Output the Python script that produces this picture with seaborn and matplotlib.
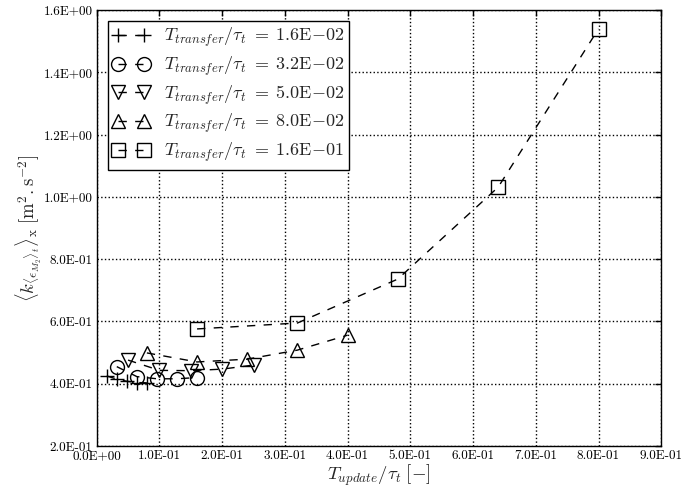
import matplotlib
matplotlib.use("Agg")
import matplotlib.pyplot as plt
import seaborn as sns
import pandas as pd

# T_update / tau_t  and  <k> for each T_transfer / tau_t
transfer_labels = [r"1.6\mathrm{E}{-}02", r"3.2\mathrm{E}{-}02", r"5.0\mathrm{E}{-}02",
                   r"8.0\mathrm{E}{-}02", r"1.6\mathrm{E}{-}01"]
markers = ["+", "o", "v", "^", "s"]

x_016 = [0.016, 0.032, 0.048, 0.064, 0.080]
k_016 = [0.425, 0.415, 0.408, 0.404, 0.403]

x_032 = [0.032, 0.064, 0.096, 0.128, 0.160]
k_032 = [0.455, 0.423, 0.416, 0.416, 0.420]

x_050 = [0.05, 0.10, 0.15, 0.20, 0.25]
k_050 = [0.476, 0.443, 0.442, 0.447, 0.460]

x_080 = [0.08, 0.16, 0.24, 0.32, 0.40]
k_080 = [0.499, 0.470, 0.479, 0.508, 0.556]

x_160 = [0.16, 0.32, 0.48, 0.64, 0.80]
k_160 = [0.576, 0.595, 0.736, 1.031, 1.539]

x_ticks = [0.0, 0.1, 0.2, 0.3, 0.4, 0.5, 0.6, 0.7, 0.8, 0.9]
x_ticklabels = ["0.0E+00", "1.0E-01", "2.0E-01", "3.0E-01", "4.0E-01",
                "5.0E-01", "6.0E-01", "7.0E-01", "8.0E-01", "9.0E-01"]
y_ticks = [0.2, 0.4, 0.6, 0.8, 1.0, 1.2, 1.4, 1.6]
y_ticklabels = ["2.0E-01", "4.0E-01", "6.0E-01", "8.0E-01",
                "1.0E+00", "1.2E+00", "1.4E+00", "1.6E+00"]

sns.set_style("white")
plt.rcParams["font.family"] = ["cmr10", "DejaVu Serif"]
plt.rcParams["mathtext.fontset"] = "cm"
plt.rcParams["axes.unicode_minus"] = False
plt.rcParams["lines.dashed_pattern"] = [6, 6]

fig = plt.figure(figsize=(6.81, 4.94), dpi=100)
ax = fig.add_axes([0.142, 0.097, 0.829, 0.883])

series = [(x_016, k_016), (x_032, k_032), (x_050, k_050), (x_080, k_080), (x_160, k_160)]
for (xs, ks), m, lab in zip(series, markers, transfer_labels):
    df = pd.DataFrame({"x": xs, "k": ks})
    sns.lineplot(data=df, x="x", y="k", ax=ax, color="k", linestyle="--", linewidth=1,
                 marker=m, markersize=10, markerfacecolor="none", markeredgecolor="k",
                 markeredgewidth=1, label=r"$T_{transfer}/\tau_t\;=\;" + lab + "$")

ax.set_xlim(0, 0.9)
ax.set_ylim(0.2, 1.6)
ax.set_xticks(x_ticks)
ax.set_xticklabels(x_ticklabels)
ax.set_yticks(y_ticks)
ax.set_yticklabels(y_ticklabels)
ax.tick_params(direction="in", top=True, right=True, length=4, width=1,
               labelsize=9.5, colors="k", pad=3)
ax.grid(True, linestyle=":", color="k", linewidth=1)
for sp in ax.spines.values():
    sp.set_color("k")
    sp.set_linewidth(1)

ax.set_xlabel(r"$T_{update}/\tau_t\;[-]$", fontsize=13.5, labelpad=0)
ax.set_ylabel(r"$\langle k_{\langle\epsilon_{M_2}\rangle_t}\rangle_{\mathrm{x}}\;[\mathrm{m}^2{.}\mathrm{s}^{-2}]$",
              fontsize=13.5, labelpad=0)

leg = ax.legend(loc="upper left", numpoints=2, fontsize=13, frameon=True, fancybox=False,
                edgecolor="k", framealpha=1, borderpad=0.3, labelspacing=0.3,
                handlelength=2.0, handletextpad=0.8, borderaxespad=0.6)
leg.get_frame().set_linewidth(1)

fig.savefig("out.png", dpi=100)
